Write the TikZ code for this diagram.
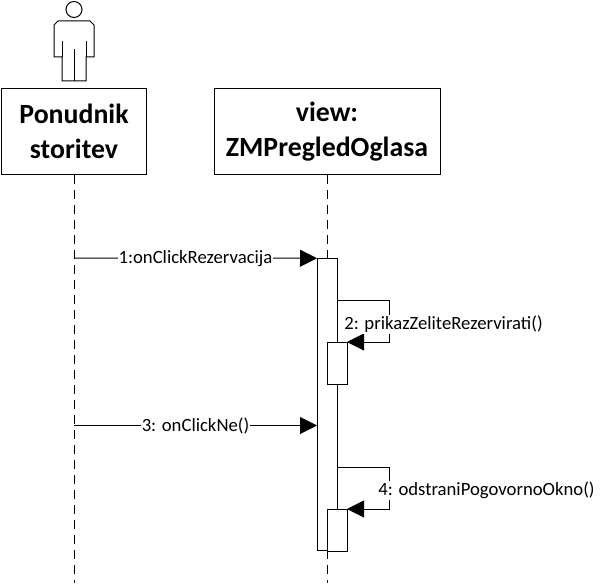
\documentclass[tikz,border=0pt]{standalone}
\usepackage{fontspec}
\setmainfont{Carlito}
\usetikzlibrary{arrows.meta}

\begin{document}
\begin{tikzpicture}[x=1pt,y=-1pt,line width=1pt]
        \useasboundingbox (0,0) rectangle (604,583);
        \tikzset{
            lifebox/.style={draw,fill=white,rectangle,inner sep=0pt,outer sep=0pt,align=center,minimum height=85.5pt,font=\fontsize{27.8}{35}\selectfont\bfseries},
            bar/.style={draw,fill=white,rectangle,inner sep=0pt,outer sep=0pt,minimum width=20pt},
            msg/.style={fill=white,inner sep=1pt,font=\fontsize{18.7}{21}\selectfont},
            call/.style={-{Triangle[length=17pt,width=17pt]}},
            life/.style={dash pattern=on 9pt off 6pt}
        }
        % actor
        \node[draw,circle,inner sep=0pt,minimum size=16pt] (head) at (74,9.5) {};
        \draw (58,21) -- (90,21) -- (94,25) -- (94,57) -- (86,57) -- (86,81) -- (62,81)
            -- (62,57) -- (54,57) -- (54,25) -- cycle;
        \draw (62,41) -- (62,57) (86,41) -- (86,57) (74,49) -- (74,81);

        \node[lifebox,minimum width=145pt] (ponudnik) at (74,131.75) {Ponudnik\\storitev};
        \node[lifebox,minimum width=226pt] (view) at (327,131.75) {view:\\ZMPregledOglasa};

        \coordinate (endA) at (74,583);
        \coordinate (endB) at (327,583);
        \draw[life] (ponudnik) -- (endA);
        \draw[life] (view) -- (endB);

        % activations
        \node[bar,minimum height=292.5pt] (main) at (327,404.5) {};
        \node[bar,minimum height=42pt] (sub1) at (337,363) {};
        \node[bar,minimum height=42pt] (sub2) at (337,530) {};

        \coordinate (m1) at (74,258);
        \coordinate (m3) at (74,425.5);
        \coordinate (s1) at (337,300);
        \coordinate (t1) at (389,300);
        \coordinate (u1) at (389,342);
        \coordinate (v1) at (347,342);
        \coordinate (s2) at (337,467.5);
        \coordinate (t2) at (389,467.5);
        \coordinate (u2) at (389,509);
        \coordinate (v2) at (347,509);

        \draw[call] (m1) -- node[msg] (lab1) {1:onClickRezervacija} (main.north west);
        \draw[call] (m3) -- node[msg] (lab3) {3: onClickNe()} (main.west |- m3);
        \draw[call] (s1) -- (t1) -- (u1) -- (v1);
        \draw[call] (s2) -- (t2) -- (u2) -- (v2);
        \node[msg] (lab2) at (443.5,324.5) {2: prikazZeliteRezervirati()};
        \node[msg] (lab4) at (486.5,490.5) {4: odstraniPogovornoOkno()};
    \end{tikzpicture}
\end{document}
